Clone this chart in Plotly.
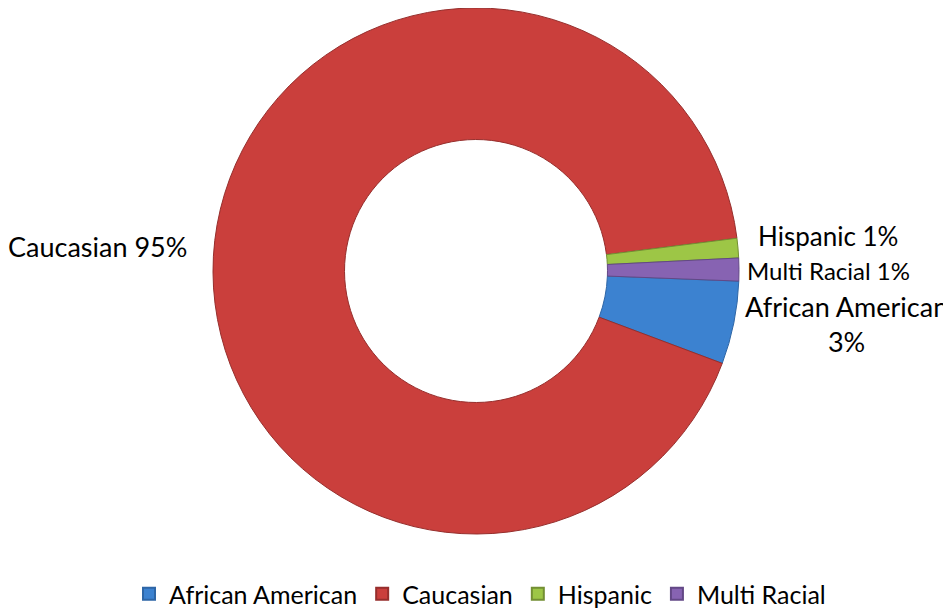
import plotly.graph_objects as go

categories = ["African American", "Caucasian", "Hispanic", "Multi Racial"]
values = [5.1, 92.3, 1.2, 1.4]           # slice sizes as drawn
label_pct = ["3%", "95%", "1%", "1%"]     # percentages as printed on the chart
colors = ["#3C82D0", "#CA3F3C", "#9DC646", "#8763B2"]
edge_colors = ["#2E66A6", "#962E2C", "#738F33", "#634886"]

# the page body adds an 8px margin, so the figure is drawn 8px in from the window corner
OFF = 8
W, H = 951 - OFF, 610 - OFF
def px(x): return (x - OFF) / W
def py(y): return 1 - (y - OFF) / H

cx, cy, r = 476, 271, 263

fig = go.Figure(go.Pie(
    labels=categories,
    values=values,
    sort=False,
    direction="clockwise",
    rotation=92.2,
    hole=0.5,
    textinfo="none",
    hoverinfo="label+percent",
    marker=dict(colors=colors, line=dict(color=edge_colors, width=1)),
    domain=dict(x=[px(cx - r), px(cx + r)], y=[max(0, py(cy + r)), min(1, py(cy - r))]),
))

font = "Lato, Calibri, sans-serif"
ann = [
    dict(text=f"{categories[1]} {label_pct[1]}", x=px(6), y=py(246), xanchor="left", size=27),
    dict(text=f"{categories[2]} {label_pct[2]}", x=px(828), y=py(236), xanchor="center", size=26),
    dict(text=f"{categories[3]} {label_pct[3]}", x=px(828), y=py(270), xanchor="center", size=24),
    dict(text=f"{categories[0]}<br>{label_pct[0]}", x=px(846), y=py(324), xanchor="center", size=27),
]
for a in ann:
    fig.add_annotation(text=a["text"], x=a["x"], y=a["y"], xref="paper", yref="paper",
                       xanchor=a["xanchor"], yanchor="middle", showarrow=False,
                       align="center", font=dict(family=font, size=a["size"], color="#000000"))

fig.update_layout(
    width=W, height=H,
    margin=dict(l=0, r=0, t=0, b=0, autoexpand=False),
    paper_bgcolor="white",
    plot_bgcolor="white",
    showlegend=True,
    legend=dict(orientation="h", x=px(480), xanchor="center", y=py(594), yanchor="middle",
                font=dict(family=font, size=25, color="#000000"),
                itemsizing="constant"),
)

fig.write_html("out.html")
